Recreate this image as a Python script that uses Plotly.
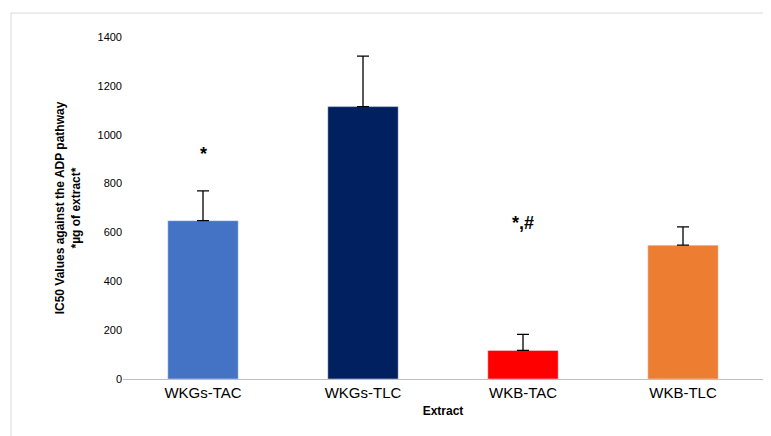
import plotly.graph_objects as go

categories = ["WKGs-TAC", "WKGs-TLC", "WKB-TAC", "WKB-TLC"]
values = [648, 1115, 117, 548]
errors_plus = [122, 207, 66, 75]
colors = ["#4472C4", "#002060", "#FF0000", "#ED7D31"]
marks = ["*", "", "*,#", ""]
mark_y = [920, 0, 640, 0]

fig = go.Figure(go.Bar(
    x=categories, y=values, marker_color=colors, width=0.44,
    error_y=dict(type="data", symmetric=False, array=errors_plus,
                 arrayminus=[0, 0, 0, 0], color="black", thickness=1.3, width=6),
))
for c, m, yy in zip(categories, marks, mark_y):
    if m:
        fig.add_annotation(x=c, y=yy, text="<b>" + m + "</b>", showarrow=False,
                           font=dict(size=18, color="black", family="Liberation Sans"))

fig.update_layout(
    width=771, height=436, plot_bgcolor="white", paper_bgcolor="white",
    margin=dict(l=115, r=16, t=29, b=65, autoexpand=False), showlegend=False,
    font=dict(family="Liberation Sans", color="black"),
    xaxis=dict(showline=True, linecolor="#BFBFBF", tickfont=dict(size=15), automargin=False,
               title=dict(text="<b>Extract</b>", font=dict(size=12), standoff=6), ticks=""),
    yaxis=dict(range=[0, 1400], dtick=200, showline=False, showgrid=False, automargin=False,
               tickfont=dict(size=11), ticks="",
               title=dict(text="<b>IC50 Values against the ADP pathway<br>*µg of extract*</b>",
                          font=dict(size=12), standoff=14)),
    shapes=[dict(type="rect", xref="paper", yref="paper", x0=-0.175, x1=1.02, y0=-0.185, y1=1.07,
                 line=dict(color="#D9D9D9", width=1))],
)
fig.write_html("out.html")
